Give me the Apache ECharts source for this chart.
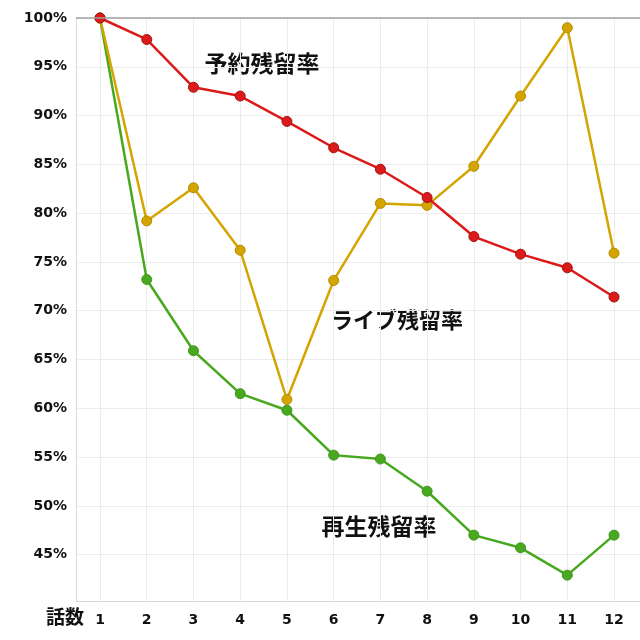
<!DOCTYPE html>
<html><head><meta charset="utf-8">
<script src="https://cdn.jsdelivr.net/npm/echarts@6/dist/echarts.min.js"></script>
<style>html,body{margin:0;padding:0;background:#fff}#c{width:640px;height:640px}</style>
</head><body><div id="c"></div>
<script>
const episodes = [1,2,3,4,5,6,7,8,9,10,11,12];
const yTicks = [45,50,55,60,65,70,75,80,85,90,95,100];
const reserve = [100,97.8,92.9,92.0,89.4,86.7,84.5,81.6,77.6,75.8,74.4,71.4];
const live = [100,79.2,82.6,76.2,60.9,73.1,81.0,80.8,84.8,92.0,99.0,75.9];
const replay = [100,73.2,65.9,61.5,59.8,55.2,54.8,51.5,47.0,45.7,42.9,47.0];
const seriesNames = ['予約残留率','ライブ残留率','再生残留率'];
const colors = ['#dd1a1a','#d4a500','#48a81f'];

const chart = echarts.init(document.getElementById('c'));
function mk(name, vals, color, z){
  return {
    name, type:'line', z,
    data: episodes.map((e,i)=>[e, vals[i]]),
    symbol:'circle', symbolSize:10,
    lineStyle:{color, width:2.5},
    itemStyle:{color, borderColor: echarts.color.modifyHSL(color, null, null, 0.35) , borderWidth:1},
    emphasis:{disabled:true}
  };
}
const s = [mk(seriesNames[2], replay, colors[2], 2), mk(seriesNames[1], live, colors[1], 3), mk(seriesNames[0], reserve, colors[0], 4)];
s[0].markLine = {silent:true, symbol:'none', label:{show:false}, lineStyle:{color:'#a0a0a0', type:'solid', width:1.5}, data:[{yAxis:100}]};
chart.setOption({
  animation:false,
  grid:{left:76, right:0, top:18, bottom:39},
  xAxis:{type:'value', min:0.486, max:12.556,
    axisLine:{show:true, onZero:false, lineStyle:{color:'#d8d8d8'}},
    axisTick:{show:false, customValues:episodes},
    axisLabel:{customValues:episodes, color:'#111', fontFamily:'DejaVu Sans', fontWeight:'bold', fontSize:14, margin:12},
    splitLine:{show:true, lineStyle:{color:'#ececec'}}
  },
  yAxis:{type:'value', min:40.25, max:100,
    axisLine:{show:true, lineStyle:{color:'#d8d8d8'}},
    axisTick:{show:false, customValues:yTicks},
    axisLabel:{customValues:yTicks, formatter:v=>Math.round(v)+'%', color:'#111', fontFamily:'DejaVu Sans', fontWeight:'bold', fontSize:14, margin:9},
    splitLine:{show:true, lineStyle:{color:'#ececec'}}
  },
  series:s,
  graphic:[
    {type:'text', left:46, top:607, style:{text:'話数', font:'bold 19px "Noto Sans CJK JP"', fill:'#111'}},
    {type:'text', x:262, y:63, style:{text:seriesNames[0], font:'bold 23px "Noto Sans CJK JP"', fill:'#111', align:'center', verticalAlign:'middle'}},
    {type:'text', x:397, y:320, style:{text:seriesNames[1], font:'bold 22px "Noto Sans CJK JP"', fill:'#111', align:'center', verticalAlign:'middle'}},
    {type:'text', x:379, y:526, style:{text:seriesNames[2], font:'bold 23px "Noto Sans CJK JP"', fill:'#111', align:'center', verticalAlign:'middle'}}
  ]
});
</script></body></html>
